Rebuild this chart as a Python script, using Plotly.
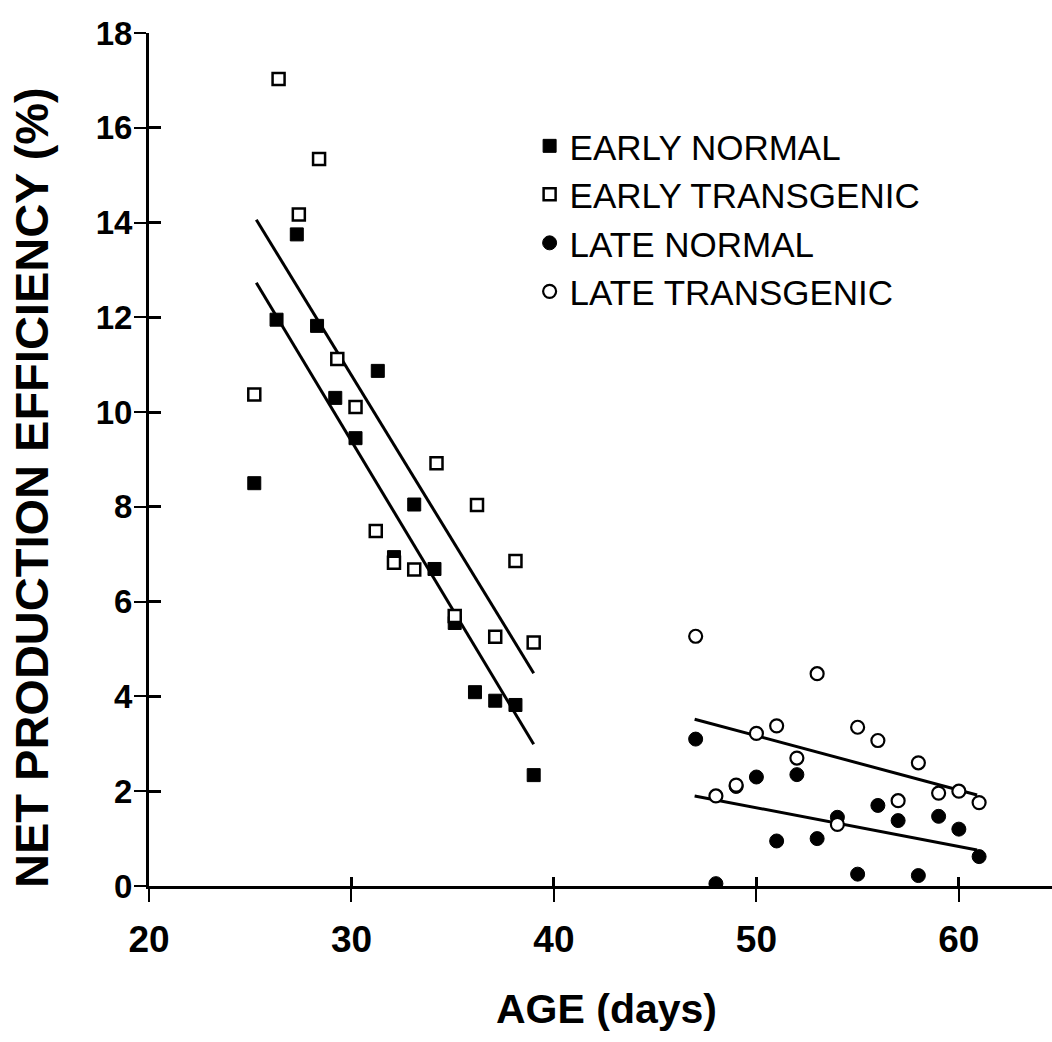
import plotly.graph_objects as go

# ---- data ----
early_normal_x = [25.2, 26.3, 27.3, 28.3, 29.2, 30.2, 31.3, 32.1, 33.1, 34.1, 35.1, 36.1, 37.1, 38.1, 39.0]
early_normal_y = [8.5, 11.95, 13.75, 11.82, 10.3, 9.45, 10.87, 6.94, 8.05, 6.69, 5.55, 4.09, 3.91, 3.82, 2.34]

early_trans_x = [25.2, 26.4, 27.4, 28.4, 29.3, 30.2, 31.2, 32.1, 33.1, 34.2, 35.1, 36.2, 37.1, 38.1, 39.0]
early_trans_y = [10.37, 17.03, 14.17, 15.34, 11.12, 10.11, 7.49, 6.82, 6.68, 8.92, 5.7, 8.04, 5.26, 6.86, 5.14]

late_normal_x = [47.0, 48.0, 49.0, 50.0, 51.0, 52.0, 53.0, 54.0, 55.0, 56.0, 57.0, 58.0, 59.0, 60.0, 61.0]
late_normal_y = [3.1, 0.05, 2.1, 2.3, 0.95, 2.35, 1.0, 1.45, 0.25, 1.7, 1.38, 0.22, 1.47, 1.2, 0.62]

late_trans_x = [47.0, 48.0, 49.0, 50.0, 51.0, 52.0, 53.0, 54.0, 55.0, 56.0, 57.0, 58.0, 59.0, 60.0, 61.0]
late_trans_y = [5.27, 1.9, 2.13, 3.22, 3.38, 2.7, 4.48, 1.3, 3.35, 3.07, 1.8, 2.6, 1.96, 2.0, 1.76]

# fitted regression lines (end points)
fit_early_normal_x = [25.3, 39.0]
fit_early_normal_y = [12.73, 2.99]
fit_early_trans_x = [25.3, 39.0]
fit_early_trans_y = [14.06, 4.49]
fit_late_normal_x = [46.95, 60.9]
fit_late_normal_y = [1.9, 0.76]
fit_late_trans_x = [46.95, 60.9]
fit_late_trans_y = [3.52, 1.92]

x_ticks = [20, 30, 40, 50, 60]
y_ticks = [0, 2, 4, 6, 8, 10, 12, 14, 16, 18]

series_names = ["EARLY NORMAL", "EARLY TRANSGENIC", "LATE NORMAL", "LATE TRANSGENIC"]

# ---- figure ----
fig = go.Figure()

line_style = dict(color="black", width=3)
for fx, fy in [(fit_early_normal_x, fit_early_normal_y), (fit_early_trans_x, fit_early_trans_y),
               (fit_late_normal_x, fit_late_normal_y), (fit_late_trans_x, fit_late_trans_y)]:
    fig.add_trace(go.Scatter(x=fx, y=fy, mode="lines", line=line_style,
                             showlegend=False, hoverinfo="skip"))

fig.add_trace(go.Scatter(x=early_normal_x, y=early_normal_y, mode="markers", name=series_names[0],
                         marker=dict(symbol="square", size=13, color="black",
                                     line=dict(color="black", width=1))))
fig.add_trace(go.Scatter(x=early_trans_x, y=early_trans_y, mode="markers", name=series_names[1],
                         marker=dict(symbol="square", size=12, color="white",
                                     line=dict(color="black", width=2.5))))
fig.add_trace(go.Scatter(x=late_normal_x, y=late_normal_y, mode="markers", name=series_names[2],
                         marker=dict(symbol="circle", size=14, color="black",
                                     line=dict(color="black", width=1))))
fig.add_trace(go.Scatter(x=late_trans_x, y=late_trans_y, mode="markers", name=series_names[3],
                         marker=dict(symbol="circle", size=13, color="white",
                                     line=dict(color="black", width=2.2))))

# invisible trace on a second, coincident subplot that carries the inner tick halves
fig.add_trace(go.Scatter(x=[early_normal_x[0]], y=[early_normal_y[0]], xaxis="x2", yaxis="y2",
                         mode="markers", marker=dict(opacity=0), showlegend=False, hoverinfo="skip"))

X_RANGE = [20, 64.6]
Y_RANGE = [0, 18]
FONT = "Liberation Sans, Arial, sans-serif"

fig.update_layout(
    width=1052, height=1042,
    margin=dict(l=149, r=0, t=33, b=156),
    paper_bgcolor="white", plot_bgcolor="rgba(0,0,0,0)",
    showlegend=True,
    legend=dict(x=0.4215, y=0.902, xanchor="left", yanchor="top",
                font=dict(family=FONT, size=35, color="black"),
                bgcolor="rgba(0,0,0,0)", itemwidth=30, tracegroupgap=0),
    # main axes: line, outer tick halves and labels
    xaxis=dict(range=X_RANGE, domain=[0, 1], anchor="y", tickvals=x_ticks, ticks="outside",
               ticklen=13, tickwidth=2, tickcolor="black", showline=True, linecolor="black",
               linewidth=3, showgrid=False, zeroline=False,
               tickfont=dict(family=FONT, size=37, color="black", weight="bold"),
               ticklabelstandoff=6),
    yaxis=dict(range=Y_RANGE, domain=[0, 1], anchor="x", tickvals=y_ticks, ticks="outside",
               ticklen=12, tickwidth=2, tickcolor="black", showline=True, linecolor="black",
               linewidth=3, showgrid=False, zeroline=False,
               tickfont=dict(family=FONT, size=33, color="black", weight="bold"),
               ticklabelstandoff=-5),
    # coincident subplot: inner tick halves (its line sits exactly on the main axis line)
    xaxis2=dict(range=X_RANGE, domain=[0, 1], anchor="y2", side="bottom",
                tickvals=x_ticks, ticks="inside", ticklen=9, tickwidth=2.5, tickcolor="black",
                showticklabels=False, showline=True, linecolor="black", linewidth=3,
                showgrid=False, zeroline=False),
    yaxis2=dict(range=Y_RANGE, domain=[0, 1], anchor="x2", side="left",
                tickvals=y_ticks, ticks="inside", ticklen=12, tickwidth=2.5, tickcolor="black",
                showticklabels=False, showline=True, linecolor="black", linewidth=3,
                showgrid=False, zeroline=False),
    annotations=[
        dict(text="NET PRODUCTION EFFICIENCY (%)", xref="paper", yref="paper",
             x=(31 - 149) / 903, y=(886 - 488) / 853, xanchor="center", yanchor="middle",
             textangle=-90, showarrow=False,
             font=dict(family=FONT, size=47, color="black", weight="bold")),
        dict(text="AGE (days)", xref="paper", yref="paper",
             x=(606 - 149) / 903, y=(886 - 1009) / 853, xanchor="center", yanchor="middle",
             showarrow=False,
             font=dict(family=FONT, size=41, color="black", weight="bold")),
    ],
)

fig.write_html("out.html")
